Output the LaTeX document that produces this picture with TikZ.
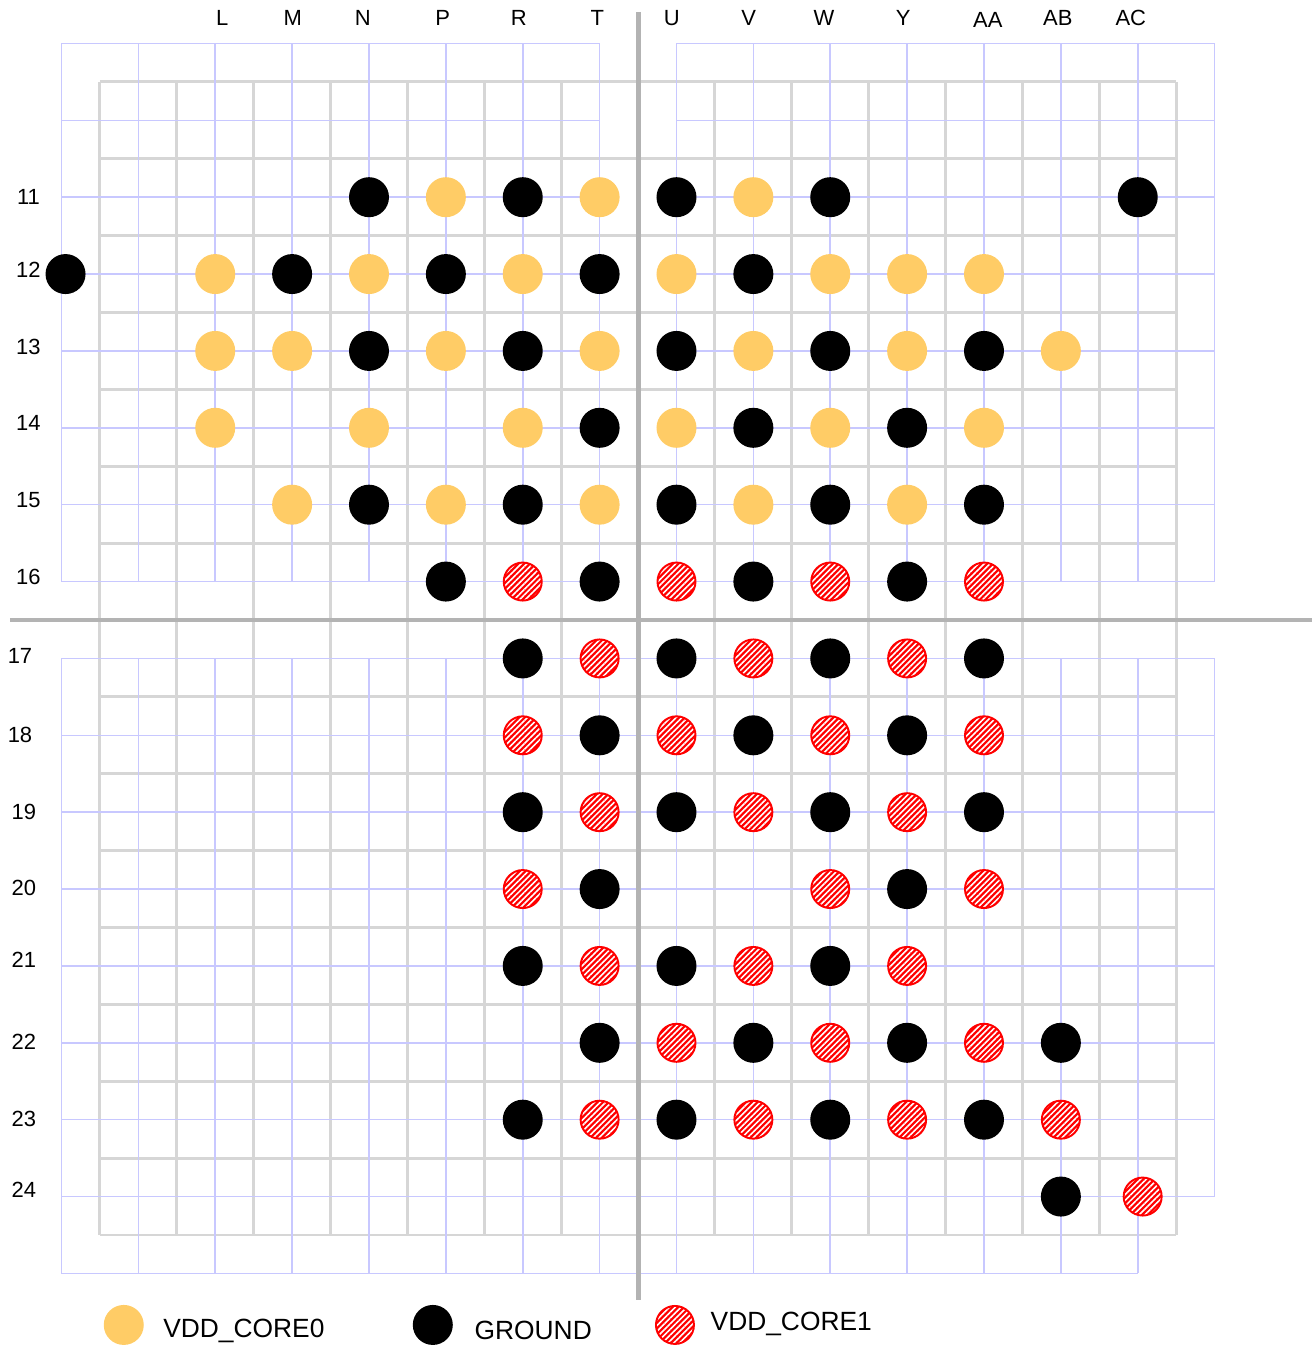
\documentclass[tikz,border=0pt]{standalone}
\usepackage{fontspec}
\setmainfont{Liberation Sans}
\usetikzlibrary{patterns.meta}

\definecolor{coreyel}{HTML}{FFCC66}
\definecolor{padgrid}{HTML}{C8C8FF}
\definecolor{bodygrid}{HTML}{D6D6D6}
\definecolor{axisgray}{HTML}{B3B3B3}

\tikzset{
  pad/.style={circle,inner sep=0pt,minimum size=0.8cm},
  vdda/.style={pad,fill=coreyel},
  gnd/.style={pad,fill=black},
  vddb/.style={pad,minimum size=0.76cm,draw=red,line width=1.1pt,
    preaction={fill=red},
    pattern={Lines[angle=45,distance=2.3pt,line width=0.9pt]},pattern color=white},
  bodylines/.style={bodygrid,line width=1.7pt,step=1.5375cm},
  padlines/.style={padgrid,line width=0.9pt,step=1.5375cm},
  collab/.style={inner sep=0pt,font=\fontsize{12.5}{15}\selectfont},
  keylab/.style={anchor=west,inner sep=0pt,font=\fontsize{15}{18}\selectfont}
}

\begin{document}
\begin{tikzpicture}[x=1.5375cm,y=1.5375cm]
\useasboundingbox (-8.3,-9.47) rectangle (8.77,8.065);

\draw[bodylines] (-7,-8) grid (7,7);
\draw[padlines,shift={(-0.5,0.5)}] (-7,0) grid (0,7);
\draw[padlines,shift={(0.5,0.5)}] (0,0) grid (7,7);
\draw[padlines,shift={(0.5,-0.5)}] (-8,-8) grid (6,0);
\draw[padlines,shift={(0.5,-0.5)}] (6,-7) grid (7,0);

\draw[axisgray,line width=2.8pt] (0,7.91) -- (0,-8.85);
\draw[axisgray,line width=2.8pt] (-8.17,0) -- (8.77,0);

\coordinate (J) at (-7.5,0);
\coordinate (K) at (-6.5,0);
\coordinate (L) at (-5.5,0);
\coordinate (M) at (-4.5,0);
\coordinate (N) at (-3.5,0);
\coordinate (P) at (-2.5,0);
\coordinate (R) at (-1.5,0);
\coordinate (T) at (-0.5,0);
\coordinate (U) at (0.5,0);
\coordinate (V) at (1.5,0);
\coordinate (W) at (2.5,0);
\coordinate (Y) at (3.5,0);
\coordinate (AA) at (4.5,0);
\coordinate (AB) at (5.5,0);
\coordinate (AC) at (6.5,0);
\coordinate (r11) at (0,5.5);
\coordinate (r12) at (0,4.5);
\coordinate (r13) at (0,3.5);
\coordinate (r14) at (0,2.5);
\coordinate (r15) at (0,1.5);
\coordinate (r16) at (0,0.5);
\coordinate (r17) at (0,-0.5);
\coordinate (r18) at (0,-1.5);
\coordinate (r19) at (0,-2.5);
\coordinate (r20) at (0,-3.5);
\coordinate (r21) at (0,-4.5);
\coordinate (r22) at (0,-5.5);
\coordinate (r23) at (0,-6.5);
\coordinate (r24) at (0,-7.5);

% column and row labels
\node[collab] (cL) at (-5.41,7.83) {L};
\node[collab] (cM) at (-4.49,7.83) {M};
\node[collab] (cN) at (-3.58,7.83) {N};
\node[collab] (cP) at (-2.54,7.83) {P};
\node[collab] (cR) at (-1.55,7.83) {R};
\node[collab] (cT) at (-0.53,7.83) {T};
\node[collab] (cU) at (0.44,7.83) {U};
\node[collab] (cV) at (1.44,7.83) {V};
\node[collab] (cW) at (2.42,7.83) {W};
\node[collab] (cY) at (3.45,7.83) {Y};
\node[collab] (cAA) at (4.55,7.80) {AA};
\node[collab] (cAB) at (5.46,7.83) {AB};
\node[collab] (cAC) at (6.41,7.83) {AC};
\node[collab] (n11) at (-7.93,5.50) {11};
\node[collab] (n12) at (-7.93,4.55) {12};
\node[collab] (n13) at (-7.93,3.55) {13};
\node[collab] (n14) at (-7.93,2.56) {14};
\node[collab] (n15) at (-7.93,1.56) {15};
\node[collab] (n16) at (-7.93,0.56) {16};
\node[collab] (n17) at (-8.04,-0.47) {17};
\node[collab] (n18) at (-8.04,-1.50) {18};
\node[collab] (n19) at (-7.99,-2.50) {19};
\node[collab] (n20) at (-7.99,-3.49) {20};
\node[collab] (n21) at (-7.99,-4.42) {21};
\node[collab] (n22) at (-7.99,-5.49) {22};
\node[collab] (n23) at (-7.99,-6.49) {23};
\node[collab] (n24) at (-7.99,-7.41) {24};

% row 11
\node[gnd] (N11) at (N |- r11) {};
\node[vdda] (P11) at (P |- r11) {};
\node[gnd] (R11) at (R |- r11) {};
\node[vdda] (T11) at (T |- r11) {};
\node[gnd] (U11) at (U |- r11) {};
\node[vdda] (V11) at (V |- r11) {};
\node[gnd] (W11) at (W |- r11) {};
\node[gnd] (AC11) at (AC |- r11) {};
% row 12
\node[gnd,xshift=2.3pt] (J12) at (J |- r12) {};
\node[vdda] (L12) at (L |- r12) {};
\node[gnd] (M12) at (M |- r12) {};
\node[vdda] (N12) at (N |- r12) {};
\node[gnd] (P12) at (P |- r12) {};
\node[vdda] (R12) at (R |- r12) {};
\node[gnd] (T12) at (T |- r12) {};
\node[vdda] (U12) at (U |- r12) {};
\node[gnd] (V12) at (V |- r12) {};
\node[vdda] (W12) at (W |- r12) {};
\node[vdda] (Y12) at (Y |- r12) {};
\node[vdda] (AA12) at (AA |- r12) {};
% row 13
\node[vdda] (L13) at (L |- r13) {};
\node[vdda] (M13) at (M |- r13) {};
\node[gnd] (N13) at (N |- r13) {};
\node[vdda] (P13) at (P |- r13) {};
\node[gnd] (R13) at (R |- r13) {};
\node[vdda] (T13) at (T |- r13) {};
\node[gnd] (U13) at (U |- r13) {};
\node[vdda] (V13) at (V |- r13) {};
\node[gnd] (W13) at (W |- r13) {};
\node[vdda] (Y13) at (Y |- r13) {};
\node[gnd] (AA13) at (AA |- r13) {};
\node[vdda] (AB13) at (AB |- r13) {};
% row 14
\node[vdda] (L14) at (L |- r14) {};
\node[vdda] (N14) at (N |- r14) {};
\node[vdda] (R14) at (R |- r14) {};
\node[gnd] (T14) at (T |- r14) {};
\node[vdda] (U14) at (U |- r14) {};
\node[gnd] (V14) at (V |- r14) {};
\node[vdda] (W14) at (W |- r14) {};
\node[gnd] (Y14) at (Y |- r14) {};
\node[vdda] (AA14) at (AA |- r14) {};
% row 15
\node[vdda] (M15) at (M |- r15) {};
\node[gnd] (N15) at (N |- r15) {};
\node[vdda] (P15) at (P |- r15) {};
\node[gnd] (R15) at (R |- r15) {};
\node[vdda] (T15) at (T |- r15) {};
\node[gnd] (U15) at (U |- r15) {};
\node[vdda] (V15) at (V |- r15) {};
\node[gnd] (W15) at (W |- r15) {};
\node[vdda] (Y15) at (Y |- r15) {};
\node[gnd] (AA15) at (AA |- r15) {};
% row 16
\node[gnd] (P16) at (P |- r16) {};
\node[vddb] (R16) at (R |- r16) {};
\node[gnd] (T16) at (T |- r16) {};
\node[vddb] (U16) at (U |- r16) {};
\node[gnd] (V16) at (V |- r16) {};
\node[vddb] (W16) at (W |- r16) {};
\node[gnd] (Y16) at (Y |- r16) {};
\node[vddb] (AA16) at (AA |- r16) {};
% row 17
\node[gnd] (R17) at (R |- r17) {};
\node[vddb] (T17) at (T |- r17) {};
\node[gnd] (U17) at (U |- r17) {};
\node[vddb] (V17) at (V |- r17) {};
\node[gnd] (W17) at (W |- r17) {};
\node[vddb] (Y17) at (Y |- r17) {};
\node[gnd] (AA17) at (AA |- r17) {};
% row 18
\node[vddb] (R18) at (R |- r18) {};
\node[gnd] (T18) at (T |- r18) {};
\node[vddb] (U18) at (U |- r18) {};
\node[gnd] (V18) at (V |- r18) {};
\node[vddb] (W18) at (W |- r18) {};
\node[gnd] (Y18) at (Y |- r18) {};
\node[vddb] (AA18) at (AA |- r18) {};
% row 19
\node[gnd] (R19) at (R |- r19) {};
\node[vddb] (T19) at (T |- r19) {};
\node[gnd] (U19) at (U |- r19) {};
\node[vddb] (V19) at (V |- r19) {};
\node[gnd] (W19) at (W |- r19) {};
\node[vddb] (Y19) at (Y |- r19) {};
\node[gnd] (AA19) at (AA |- r19) {};
% row 20
\node[vddb] (R20) at (R |- r20) {};
\node[gnd] (T20) at (T |- r20) {};
\node[vddb] (W20) at (W |- r20) {};
\node[gnd] (Y20) at (Y |- r20) {};
\node[vddb] (AA20) at (AA |- r20) {};
% row 21
\node[gnd] (R21) at (R |- r21) {};
\node[vddb] (T21) at (T |- r21) {};
\node[gnd] (U21) at (U |- r21) {};
\node[vddb] (V21) at (V |- r21) {};
\node[gnd] (W21) at (W |- r21) {};
\node[vddb] (Y21) at (Y |- r21) {};
% row 22
\node[gnd] (T22) at (T |- r22) {};
\node[vddb] (U22) at (U |- r22) {};
\node[gnd] (V22) at (V |- r22) {};
\node[vddb] (W22) at (W |- r22) {};
\node[gnd] (Y22) at (Y |- r22) {};
\node[vddb] (AA22) at (AA |- r22) {};
\node[gnd] (AB22) at (AB |- r22) {};
% row 23
\node[gnd] (R23) at (R |- r23) {};
\node[vddb] (T23) at (T |- r23) {};
\node[gnd] (U23) at (U |- r23) {};
\node[vddb] (V23) at (V |- r23) {};
\node[gnd] (W23) at (W |- r23) {};
\node[vddb] (Y23) at (Y |- r23) {};
\node[gnd] (AA23) at (AA |- r23) {};
\node[vddb] (AB23) at (AB |- r23) {};
% row 24
\node[gnd] (AB24) at (AB |- r24) {};
\node[vddb,xshift=2.8pt] (AC24) at (AC |- r24) {};

% legend
\node[vdda] (keyA) at (-6.69,-9.17) {};
\node[keylab] (keyAtxt) at (-6.18,-9.25) {VDD\_CORE0};
\node[gnd] (keyG) at (-2.67,-9.17) {};
\node[keylab] (keyGtxt) at (-2.13,-9.24) {GROUND};
\node[vddb] (keyB) at (0.48,-9.17) {};
\node[keylab] (keyBtxt) at (0.94,-9.16) {VDD\_CORE1};
\end{tikzpicture}
\end{document}
